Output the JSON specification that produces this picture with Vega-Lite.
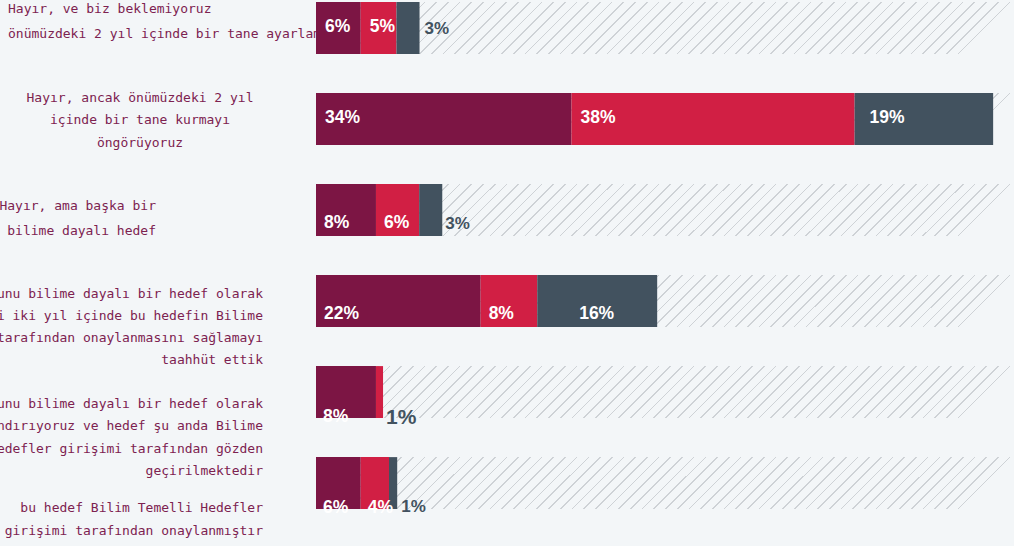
{
  "$schema": "https://vega.github.io/schema/vega-lite/v6.json",
  "width": 698,
  "height": 511,
  "autosize": {"type": "none"},
  "padding": {"left": 316, "top": 0, "right": 0, "bottom": 35},
  "background": "#f3f6f8",
  "config": {"view": {"stroke": null}},
  "data": {
    "values": [
      {"no": 1, "answer": "Hayır, ve biz beklemiyoruz\nönümüzdeki 2 yıl içinde bir tane ayarlamak", "series": "1", "value": 6.0, "label": "6%"},
      {"no": 1, "answer": "Hayır, ve biz beklemiyoruz\nönümüzdeki 2 yıl içinde bir tane ayarlamak", "series": "2", "value": 4.8, "label": "5%"},
      {"no": 1, "answer": "Hayır, ve biz beklemiyoruz\nönümüzdeki 2 yıl içinde bir tane ayarlamak", "series": "3", "value": 3.1, "label": "3%"},
      {"no": 2, "answer": "Hayır, ancak önümüzdeki 2 yıl\niçinde bir tane kurmayı\nöngörüyoruz", "series": "1", "value": 34.3, "label": "34%"},
      {"no": 2, "answer": "Hayır, ancak önümüzdeki 2 yıl\niçinde bir tane kurmayı\nöngörüyoruz", "series": "2", "value": 38.0, "label": "38%"},
      {"no": 2, "answer": "Hayır, ancak önümüzdeki 2 yıl\niçinde bir tane kurmayı\nöngörüyoruz", "series": "3", "value": 18.6, "label": "19%"},
      {"no": 3, "answer": "Hayır, ama başka bir\nbilime dayalı hedef", "series": "1", "value": 8.05, "label": "8%"},
      {"no": 3, "answer": "Hayır, ama başka bir\nbilime dayalı hedef", "series": "2", "value": 5.8, "label": "6%"},
      {"no": 3, "answer": "Hayır, ama başka bir\nbilime dayalı hedef", "series": "3", "value": 3.1, "label": "3%"},
      {"no": 4, "answer": "Evet, bunu bilime dayalı bir hedef olarak\nbelirledik ve önümüzdeki iki yıl içinde bu hedefin Bilime\nDayalı Hedefler girişimi tarafından onaylanmasını sağlamayı\ntaahhüt ettik", "series": "1", "value": 22.1, "label": "22%"},
      {"no": 4, "answer": "Evet, bunu bilime dayalı bir hedef olarak\nbelirledik ve önümüzdeki iki yıl içinde bu hedefin Bilime\nDayalı Hedefler girişimi tarafından onaylanmasını sağlamayı\ntaahhüt ettik", "series": "2", "value": 7.6, "label": "8%"},
      {"no": 4, "answer": "Evet, bunu bilime dayalı bir hedef olarak\nbelirledik ve önümüzdeki iki yıl içinde bu hedefin Bilime\nDayalı Hedefler girişimi tarafından onaylanmasını sağlamayı\ntaahhüt ettik", "series": "3", "value": 16.1, "label": "16%"},
      {"no": 5, "answer": "Evet, bunu bilime dayalı bir hedef olarak\ntanımlandırıyoruz ve hedef şu anda Bilime\nDayalı Hedefler girişimi tarafından gözden\ngeçirilmektedir", "series": "1", "value": 8.05, "label": "8%"},
      {"no": 5, "answer": "Evet, bunu bilime dayalı bir hedef olarak\ntanımlandırıyoruz ve hedef şu anda Bilime\nDayalı Hedefler girişimi tarafından gözden\ngeçirilmektedir", "series": "2", "value": 0.95, "label": "1%"},
      {"no": 5, "answer": "Evet, bunu bilime dayalı bir hedef olarak\ntanımlandırıyoruz ve hedef şu anda Bilime\nDayalı Hedefler girişimi tarafından gözden\ngeçirilmektedir", "series": "3", "value": 0, "label": "0%"},
      {"no": 6, "answer": "bu hedef Bilim Temelli Hedefler\ngirişimi tarafından onaylanmıştır", "series": "1", "value": 6.0, "label": "6%"},
      {"no": 6, "answer": "bu hedef Bilim Temelli Hedefler\ngirişimi tarafından onaylanmıştır", "series": "2", "value": 3.8, "label": "4%"},
      {"no": 6, "answer": "bu hedef Bilim Temelli Hedefler\ngirişimi tarafından onaylanmıştır", "series": "3", "value": 1.1, "label": "1%"}
    ]
  },
  "transform": [
    {"window": [{"op": "sum", "field": "value", "as": "v1"}], "groupby": ["no"], "sort": [{"field": "series", "order": "ascending"}], "frame": [null, 0]},
    {"calculate": "datum.v1 - datum.value", "as": "v0"},
    {"calculate": "split(datum.answer, '\\n')", "as": "lines"}
  ],
  "layer": [
    {
      "transform": [{"filter": "datum.series == '1' && datum.no == 1"}],
      "mark": {"type": "text", "align": "left", "baseline": "middle", "dx": -308, "dy": -18.5, "font": "DejaVu Sans Mono", "fontSize": 13, "lineHeight": 25, "color": "#7d2250"},
      "encoding": {
        "y": {"field": "no", "type": "ordinal", "axis": null},
        "x": {"field": "v0", "type": "quantitative", "axis": null},
        "text": {"field": "lines", "type": "nominal"}
      }
    },
    {
      "transform": [{"filter": "datum.series == '1' && datum.no == 2"}],
      "mark": {"type": "text", "align": "center", "baseline": "middle", "dx": -176, "dy": -21, "font": "DejaVu Sans Mono", "fontSize": 13, "lineHeight": 22.5, "color": "#7d2250"},
      "encoding": {
        "y": {"field": "no", "type": "ordinal", "axis": null},
        "x": {"field": "v0", "type": "quantitative", "axis": null},
        "text": {"field": "lines", "type": "nominal"}
      }
    },
    {
      "transform": [{"filter": "datum.series == '1' && datum.no == 3"}],
      "mark": {"type": "text", "align": "right", "baseline": "middle", "dx": -160, "dy": -4, "font": "DejaVu Sans Mono", "fontSize": 13, "lineHeight": 25, "color": "#7d2250"},
      "encoding": {
        "y": {"field": "no", "type": "ordinal", "axis": null},
        "x": {"field": "v0", "type": "quantitative", "axis": null},
        "text": {"field": "lines", "type": "nominal"}
      }
    },
    {
      "transform": [{"filter": "datum.series == '1' && datum.no == 4"}],
      "mark": {"type": "text", "align": "right", "baseline": "middle", "dx": -53, "dy": -7.5, "font": "DejaVu Sans Mono", "fontSize": 13, "lineHeight": 22.3, "color": "#7d2250"},
      "encoding": {
        "y": {"field": "no", "type": "ordinal", "axis": null},
        "x": {"field": "v0", "type": "quantitative", "axis": null},
        "text": {"field": "lines", "type": "nominal"}
      }
    },
    {
      "transform": [{"filter": "datum.series == '1' && datum.no == 5"}],
      "mark": {"type": "text", "align": "right", "baseline": "middle", "dx": -53, "dy": 12, "font": "DejaVu Sans Mono", "fontSize": 13, "lineHeight": 22.3, "color": "#7d2250"},
      "encoding": {
        "y": {"field": "no", "type": "ordinal", "axis": null},
        "x": {"field": "v0", "type": "quantitative", "axis": null},
        "text": {"field": "lines", "type": "nominal"}
      }
    },
    {
      "transform": [{"filter": "datum.series == '1' && datum.no == 6"}],
      "mark": {"type": "text", "align": "right", "baseline": "middle", "dx": -53, "dy": 25, "font": "DejaVu Sans Mono", "fontSize": 13, "lineHeight": 23, "color": "#7d2250"},
      "encoding": {
        "y": {"field": "no", "type": "ordinal", "axis": null},
        "x": {"field": "v0", "type": "quantitative", "axis": null},
        "text": {"field": "lines", "type": "nominal"}
      }
    },
    {
      "transform": [{"filter": "datum.series == '1'"}],
      "mark": {
        "type": "bar",
        "fill": {
          "gradient": "linear", "x1": 0, "y1": 0, "x2": 1, "y2": 0.0744,
          "stops": [
            {"offset": 0, "color": "#f3f6f8"},
            {"offset": 0.0040, "color": "#f3f6f8"}, {"offset": 0.0040, "color": "#ced2d6"}, {"offset": 0.0063, "color": "#ced2d6"}, {"offset": 0.0063, "color": "#f3f6f8"},
            {"offset": 0.0207, "color": "#f3f6f8"}, {"offset": 0.0207, "color": "#ced2d6"}, {"offset": 0.0230, "color": "#ced2d6"}, {"offset": 0.0230, "color": "#f3f6f8"},
            {"offset": 0.0373, "color": "#f3f6f8"}, {"offset": 0.0373, "color": "#ced2d6"}, {"offset": 0.0396, "color": "#ced2d6"}, {"offset": 0.0396, "color": "#f3f6f8"},
            {"offset": 0.0540, "color": "#f3f6f8"}, {"offset": 0.0540, "color": "#ced2d6"}, {"offset": 0.0563, "color": "#ced2d6"}, {"offset": 0.0563, "color": "#f3f6f8"},
            {"offset": 0.0707, "color": "#f3f6f8"}, {"offset": 0.0707, "color": "#ced2d6"}, {"offset": 0.0730, "color": "#ced2d6"}, {"offset": 0.0730, "color": "#f3f6f8"},
            {"offset": 0.0874, "color": "#f3f6f8"}, {"offset": 0.0874, "color": "#ced2d6"}, {"offset": 0.0897, "color": "#ced2d6"}, {"offset": 0.0897, "color": "#f3f6f8"},
            {"offset": 0.1040, "color": "#f3f6f8"}, {"offset": 0.1040, "color": "#ced2d6"}, {"offset": 0.1063, "color": "#ced2d6"}, {"offset": 0.1063, "color": "#f3f6f8"},
            {"offset": 0.1207, "color": "#f3f6f8"}, {"offset": 0.1207, "color": "#ced2d6"}, {"offset": 0.1230, "color": "#ced2d6"}, {"offset": 0.1230, "color": "#f3f6f8"},
            {"offset": 0.1374, "color": "#f3f6f8"}, {"offset": 0.1374, "color": "#ced2d6"}, {"offset": 0.1397, "color": "#ced2d6"}, {"offset": 0.1397, "color": "#f3f6f8"},
            {"offset": 0.1540, "color": "#f3f6f8"}, {"offset": 0.1540, "color": "#ced2d6"}, {"offset": 0.1563, "color": "#ced2d6"}, {"offset": 0.1563, "color": "#f3f6f8"},
            {"offset": 0.1707, "color": "#f3f6f8"}, {"offset": 0.1707, "color": "#ced2d6"}, {"offset": 0.1730, "color": "#ced2d6"}, {"offset": 0.1730, "color": "#f3f6f8"},
            {"offset": 0.1874, "color": "#f3f6f8"}, {"offset": 0.1874, "color": "#ced2d6"}, {"offset": 0.1897, "color": "#ced2d6"}, {"offset": 0.1897, "color": "#f3f6f8"},
            {"offset": 0.2040, "color": "#f3f6f8"}, {"offset": 0.2040, "color": "#ced2d6"}, {"offset": 0.2063, "color": "#ced2d6"}, {"offset": 0.2063, "color": "#f3f6f8"},
            {"offset": 0.2207, "color": "#f3f6f8"}, {"offset": 0.2207, "color": "#ced2d6"}, {"offset": 0.2230, "color": "#ced2d6"}, {"offset": 0.2230, "color": "#f3f6f8"},
            {"offset": 0.2374, "color": "#f3f6f8"}, {"offset": 0.2374, "color": "#ced2d6"}, {"offset": 0.2397, "color": "#ced2d6"}, {"offset": 0.2397, "color": "#f3f6f8"},
            {"offset": 0.2541, "color": "#f3f6f8"}, {"offset": 0.2541, "color": "#ced2d6"}, {"offset": 0.2564, "color": "#ced2d6"}, {"offset": 0.2564, "color": "#f3f6f8"},
            {"offset": 0.2707, "color": "#f3f6f8"}, {"offset": 0.2707, "color": "#ced2d6"}, {"offset": 0.2730, "color": "#ced2d6"}, {"offset": 0.2730, "color": "#f3f6f8"},
            {"offset": 0.2874, "color": "#f3f6f8"}, {"offset": 0.2874, "color": "#ced2d6"}, {"offset": 0.2897, "color": "#ced2d6"}, {"offset": 0.2897, "color": "#f3f6f8"},
            {"offset": 0.3041, "color": "#f3f6f8"}, {"offset": 0.3041, "color": "#ced2d6"}, {"offset": 0.3064, "color": "#ced2d6"}, {"offset": 0.3064, "color": "#f3f6f8"},
            {"offset": 0.3207, "color": "#f3f6f8"}, {"offset": 0.3207, "color": "#ced2d6"}, {"offset": 0.3230, "color": "#ced2d6"}, {"offset": 0.3230, "color": "#f3f6f8"},
            {"offset": 0.3374, "color": "#f3f6f8"}, {"offset": 0.3374, "color": "#ced2d6"}, {"offset": 0.3397, "color": "#ced2d6"}, {"offset": 0.3397, "color": "#f3f6f8"},
            {"offset": 0.3541, "color": "#f3f6f8"}, {"offset": 0.3541, "color": "#ced2d6"}, {"offset": 0.3564, "color": "#ced2d6"}, {"offset": 0.3564, "color": "#f3f6f8"},
            {"offset": 0.3707, "color": "#f3f6f8"}, {"offset": 0.3707, "color": "#ced2d6"}, {"offset": 0.3730, "color": "#ced2d6"}, {"offset": 0.3730, "color": "#f3f6f8"},
            {"offset": 0.3874, "color": "#f3f6f8"}, {"offset": 0.3874, "color": "#ced2d6"}, {"offset": 0.3897, "color": "#ced2d6"}, {"offset": 0.3897, "color": "#f3f6f8"},
            {"offset": 0.4041, "color": "#f3f6f8"}, {"offset": 0.4041, "color": "#ced2d6"}, {"offset": 0.4064, "color": "#ced2d6"}, {"offset": 0.4064, "color": "#f3f6f8"},
            {"offset": 0.4208, "color": "#f3f6f8"}, {"offset": 0.4208, "color": "#ced2d6"}, {"offset": 0.4231, "color": "#ced2d6"}, {"offset": 0.4231, "color": "#f3f6f8"},
            {"offset": 0.4374, "color": "#f3f6f8"}, {"offset": 0.4374, "color": "#ced2d6"}, {"offset": 0.4397, "color": "#ced2d6"}, {"offset": 0.4397, "color": "#f3f6f8"},
            {"offset": 0.4541, "color": "#f3f6f8"}, {"offset": 0.4541, "color": "#ced2d6"}, {"offset": 0.4564, "color": "#ced2d6"}, {"offset": 0.4564, "color": "#f3f6f8"},
            {"offset": 0.4708, "color": "#f3f6f8"}, {"offset": 0.4708, "color": "#ced2d6"}, {"offset": 0.4731, "color": "#ced2d6"}, {"offset": 0.4731, "color": "#f3f6f8"},
            {"offset": 0.4874, "color": "#f3f6f8"}, {"offset": 0.4874, "color": "#ced2d6"}, {"offset": 0.4897, "color": "#ced2d6"}, {"offset": 0.4897, "color": "#f3f6f8"},
            {"offset": 0.5041, "color": "#f3f6f8"}, {"offset": 0.5041, "color": "#ced2d6"}, {"offset": 0.5064, "color": "#ced2d6"}, {"offset": 0.5064, "color": "#f3f6f8"},
            {"offset": 0.5208, "color": "#f3f6f8"}, {"offset": 0.5208, "color": "#ced2d6"}, {"offset": 0.5231, "color": "#ced2d6"}, {"offset": 0.5231, "color": "#f3f6f8"},
            {"offset": 0.5374, "color": "#f3f6f8"}, {"offset": 0.5374, "color": "#ced2d6"}, {"offset": 0.5397, "color": "#ced2d6"}, {"offset": 0.5397, "color": "#f3f6f8"},
            {"offset": 0.5541, "color": "#f3f6f8"}, {"offset": 0.5541, "color": "#ced2d6"}, {"offset": 0.5564, "color": "#ced2d6"}, {"offset": 0.5564, "color": "#f3f6f8"},
            {"offset": 0.5708, "color": "#f3f6f8"}, {"offset": 0.5708, "color": "#ced2d6"}, {"offset": 0.5731, "color": "#ced2d6"}, {"offset": 0.5731, "color": "#f3f6f8"},
            {"offset": 0.5875, "color": "#f3f6f8"}, {"offset": 0.5875, "color": "#ced2d6"}, {"offset": 0.5898, "color": "#ced2d6"}, {"offset": 0.5898, "color": "#f3f6f8"},
            {"offset": 0.6041, "color": "#f3f6f8"}, {"offset": 0.6041, "color": "#ced2d6"}, {"offset": 0.6064, "color": "#ced2d6"}, {"offset": 0.6064, "color": "#f3f6f8"},
            {"offset": 0.6208, "color": "#f3f6f8"}, {"offset": 0.6208, "color": "#ced2d6"}, {"offset": 0.6231, "color": "#ced2d6"}, {"offset": 0.6231, "color": "#f3f6f8"},
            {"offset": 0.6375, "color": "#f3f6f8"}, {"offset": 0.6375, "color": "#ced2d6"}, {"offset": 0.6398, "color": "#ced2d6"}, {"offset": 0.6398, "color": "#f3f6f8"},
            {"offset": 0.6541, "color": "#f3f6f8"}, {"offset": 0.6541, "color": "#ced2d6"}, {"offset": 0.6564, "color": "#ced2d6"}, {"offset": 0.6564, "color": "#f3f6f8"},
            {"offset": 0.6708, "color": "#f3f6f8"}, {"offset": 0.6708, "color": "#ced2d6"}, {"offset": 0.6731, "color": "#ced2d6"}, {"offset": 0.6731, "color": "#f3f6f8"},
            {"offset": 0.6875, "color": "#f3f6f8"}, {"offset": 0.6875, "color": "#ced2d6"}, {"offset": 0.6898, "color": "#ced2d6"}, {"offset": 0.6898, "color": "#f3f6f8"},
            {"offset": 0.7041, "color": "#f3f6f8"}, {"offset": 0.7041, "color": "#ced2d6"}, {"offset": 0.7064, "color": "#ced2d6"}, {"offset": 0.7064, "color": "#f3f6f8"},
            {"offset": 0.7208, "color": "#f3f6f8"}, {"offset": 0.7208, "color": "#ced2d6"}, {"offset": 0.7231, "color": "#ced2d6"}, {"offset": 0.7231, "color": "#f3f6f8"},
            {"offset": 0.7375, "color": "#f3f6f8"}, {"offset": 0.7375, "color": "#ced2d6"}, {"offset": 0.7398, "color": "#ced2d6"}, {"offset": 0.7398, "color": "#f3f6f8"},
            {"offset": 0.7542, "color": "#f3f6f8"}, {"offset": 0.7542, "color": "#ced2d6"}, {"offset": 0.7565, "color": "#ced2d6"}, {"offset": 0.7565, "color": "#f3f6f8"},
            {"offset": 0.7708, "color": "#f3f6f8"}, {"offset": 0.7708, "color": "#ced2d6"}, {"offset": 0.7731, "color": "#ced2d6"}, {"offset": 0.7731, "color": "#f3f6f8"},
            {"offset": 0.7875, "color": "#f3f6f8"}, {"offset": 0.7875, "color": "#ced2d6"}, {"offset": 0.7898, "color": "#ced2d6"}, {"offset": 0.7898, "color": "#f3f6f8"},
            {"offset": 0.8042, "color": "#f3f6f8"}, {"offset": 0.8042, "color": "#ced2d6"}, {"offset": 0.8065, "color": "#ced2d6"}, {"offset": 0.8065, "color": "#f3f6f8"},
            {"offset": 0.8208, "color": "#f3f6f8"}, {"offset": 0.8208, "color": "#ced2d6"}, {"offset": 0.8231, "color": "#ced2d6"}, {"offset": 0.8231, "color": "#f3f6f8"},
            {"offset": 0.8375, "color": "#f3f6f8"}, {"offset": 0.8375, "color": "#ced2d6"}, {"offset": 0.8398, "color": "#ced2d6"}, {"offset": 0.8398, "color": "#f3f6f8"},
            {"offset": 0.8542, "color": "#f3f6f8"}, {"offset": 0.8542, "color": "#ced2d6"}, {"offset": 0.8565, "color": "#ced2d6"}, {"offset": 0.8565, "color": "#f3f6f8"},
            {"offset": 0.8708, "color": "#f3f6f8"}, {"offset": 0.8708, "color": "#ced2d6"}, {"offset": 0.8731, "color": "#ced2d6"}, {"offset": 0.8731, "color": "#f3f6f8"},
            {"offset": 0.8875, "color": "#f3f6f8"}, {"offset": 0.8875, "color": "#ced2d6"}, {"offset": 0.8898, "color": "#ced2d6"}, {"offset": 0.8898, "color": "#f3f6f8"},
            {"offset": 0.9042, "color": "#f3f6f8"}, {"offset": 0.9042, "color": "#ced2d6"}, {"offset": 0.9065, "color": "#ced2d6"}, {"offset": 0.9065, "color": "#f3f6f8"},
            {"offset": 0.9209, "color": "#f3f6f8"}, {"offset": 0.9209, "color": "#ced2d6"}, {"offset": 0.9232, "color": "#ced2d6"}, {"offset": 0.9232, "color": "#f3f6f8"},
            {"offset": 0.9375, "color": "#f3f6f8"}, {"offset": 0.9375, "color": "#ced2d6"}, {"offset": 0.9398, "color": "#ced2d6"}, {"offset": 0.9398, "color": "#f3f6f8"},
            {"offset": 0.9542, "color": "#f3f6f8"}, {"offset": 0.9542, "color": "#ced2d6"}, {"offset": 0.9565, "color": "#ced2d6"}, {"offset": 0.9565, "color": "#f3f6f8"},
            {"offset": 0.9709, "color": "#f3f6f8"}, {"offset": 0.9709, "color": "#ced2d6"}, {"offset": 0.9732, "color": "#ced2d6"}, {"offset": 0.9732, "color": "#f3f6f8"},
            {"offset": 0.9875, "color": "#f3f6f8"}, {"offset": 0.9875, "color": "#ced2d6"}, {"offset": 0.9898, "color": "#ced2d6"}, {"offset": 0.9898, "color": "#f3f6f8"},
            {"offset": 1, "color": "#f3f6f8"}
          ]
        }
      },
      "encoding": {
        "y": {"field": "no", "type": "ordinal", "axis": null},
        "x": {"datum": 0, "type": "quantitative", "axis": null},
        "x2": {"datum": 93.7}
      }
    },
    {
      "mark": {"type": "bar"},
      "encoding": {
        "y": {"field": "no", "type": "ordinal", "axis": null, "scale": {"paddingInner": 0.43, "paddingOuter": 0.022}},
        "x": {"field": "v0", "type": "quantitative", "axis": null, "scale": {"domain": [0, 93.7], "nice": false, "zero": false}},
        "x2": {"field": "v1"},
        "color": {"field": "series", "type": "nominal", "legend": null, "scale": {"domain": ["1", "2", "3"], "range": ["#7c1544", "#d11f44", "#42525f"]}}
      }
    },
    {
      "transform": [{"filter": "datum.value >= 3.5 && datum.no <= 2 && !(datum.no == 2 && datum.series == '3')"}],
      "mark": {"type": "text", "align": "left", "baseline": "middle", "dx": 9, "dy": -1, "font": "Liberation Sans", "fontWeight": "bold", "fontSize": 17.5, "color": "#ffffff"},
      "encoding": {"y": {"field": "no", "type": "ordinal", "axis": null}, "x": {"field": "v0", "type": "quantitative", "axis": null}, "text": {"field": "label", "type": "nominal"}}
    },
    {
      "transform": [{"filter": "datum.no == 2 && datum.series == '3'"}],
      "mark": {"type": "text", "align": "left", "baseline": "middle", "dx": 15, "dy": -1, "font": "Liberation Sans", "fontWeight": "bold", "fontSize": 17.5, "color": "#ffffff"},
      "encoding": {"y": {"field": "no", "type": "ordinal", "axis": null}, "x": {"field": "v0", "type": "quantitative", "axis": null}, "text": {"field": "label", "type": "nominal"}}
    },
    {
      "transform": [{"filter": "datum.value >= 3.5 && (datum.no == 3 || datum.no == 4) && !(datum.no == 4 && datum.series == '3')"}],
      "mark": {"type": "text", "align": "left", "baseline": "middle", "dx": 8, "dy": 13, "font": "Liberation Sans", "fontWeight": "bold", "fontSize": 17.5, "color": "#ffffff"},
      "encoding": {"y": {"field": "no", "type": "ordinal", "axis": null}, "x": {"field": "v0", "type": "quantitative", "axis": null}, "text": {"field": "label", "type": "nominal"}}
    },
    {
      "transform": [{"filter": "datum.no == 4 && datum.series == '3'"}],
      "mark": {"type": "text", "align": "right", "baseline": "middle", "dx": -43, "dy": 13, "font": "Liberation Sans", "fontWeight": "bold", "fontSize": 17.5, "color": "#ffffff"},
      "encoding": {"y": {"field": "no", "type": "ordinal", "axis": null}, "x": {"field": "v1", "type": "quantitative", "axis": null}, "text": {"field": "label", "type": "nominal"}}
    },
    {
      "transform": [{"filter": "datum.value >= 3.5 && datum.no >= 5"}],
      "mark": {"type": "text", "align": "left", "baseline": "middle", "dx": 7, "dy": 25, "font": "Liberation Sans", "fontWeight": "bold", "fontSize": 17.5, "color": "#ffffff"},
      "encoding": {"y": {"field": "no", "type": "ordinal", "axis": null}, "x": {"field": "v0", "type": "quantitative", "axis": null}, "text": {"field": "label", "type": "nominal"}}
    },
    {
      "transform": [{"filter": "datum.value > 0 && datum.value < 3.5 && datum.no == 1"}],
      "mark": {"type": "text", "align": "left", "baseline": "middle", "dx": 5, "dy": 1, "font": "Liberation Sans", "fontWeight": "bold", "fontSize": 17, "color": "#42525f"},
      "encoding": {"y": {"field": "no", "type": "ordinal", "axis": null}, "x": {"field": "v1", "type": "quantitative", "axis": null}, "text": {"field": "label", "type": "nominal"}}
    },
    {
      "transform": [{"filter": "datum.value > 0 && datum.value < 3.5 && datum.no == 3"}],
      "mark": {"type": "text", "align": "left", "baseline": "middle", "dx": 3, "dy": 14.5, "font": "Liberation Sans", "fontWeight": "bold", "fontSize": 17, "color": "#42525f"},
      "encoding": {"y": {"field": "no", "type": "ordinal", "axis": null}, "x": {"field": "v1", "type": "quantitative", "axis": null}, "text": {"field": "label", "type": "nominal"}}
    },
    {
      "transform": [{"filter": "datum.value > 0 && datum.value < 3.5 && datum.no == 5"}],
      "mark": {"type": "text", "align": "left", "baseline": "middle", "dx": 3, "dy": 26, "font": "Liberation Sans", "fontWeight": "bold", "fontSize": 21, "color": "#42525f"},
      "encoding": {"y": {"field": "no", "type": "ordinal", "axis": null}, "x": {"field": "v1", "type": "quantitative", "axis": null}, "text": {"field": "label", "type": "nominal"}}
    },
    {
      "transform": [{"filter": "datum.value > 0 && datum.value < 3.5 && datum.no == 6"}],
      "mark": {"type": "text", "align": "left", "baseline": "middle", "dx": 4, "dy": 23.5, "font": "Liberation Sans", "fontWeight": "bold", "fontSize": 17, "color": "#42525f"},
      "encoding": {"y": {"field": "no", "type": "ordinal", "axis": null}, "x": {"field": "v1", "type": "quantitative", "axis": null}, "text": {"field": "label", "type": "nominal"}}
    }
  ]
}
